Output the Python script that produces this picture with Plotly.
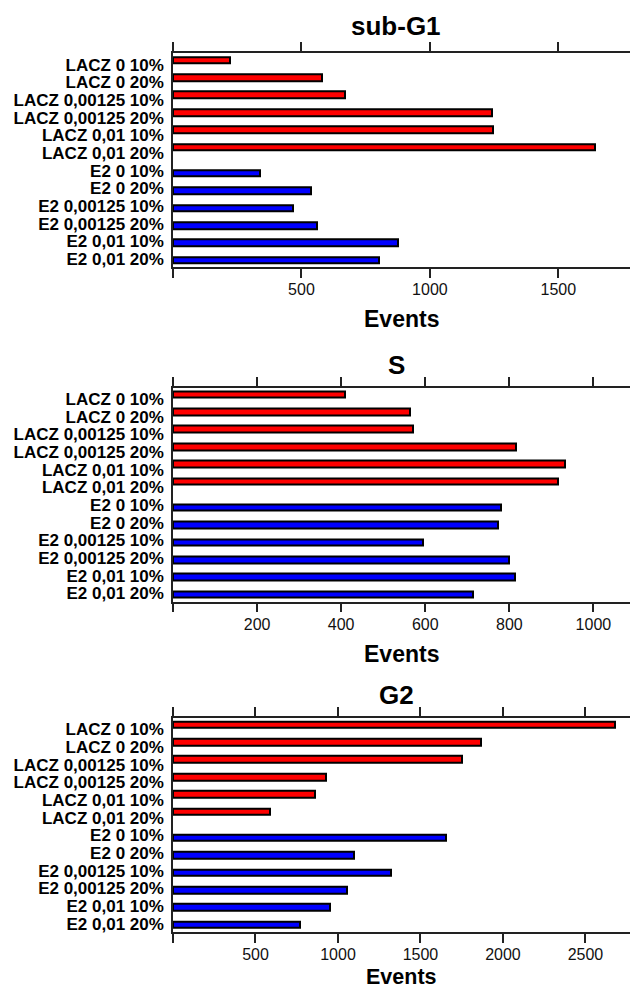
import numpy as np
import plotly.graph_objects as go

categories = ["LACZ 0 10%", "LACZ 0 20%", "LACZ 0,00125 10%", "LACZ 0,00125 20%",
              "LACZ 0,01 10%", "LACZ 0,01 20%",
              "E2 0 10%", "E2 0 20%", "E2 0,00125 10%", "E2 0,00125 20%",
              "E2 0,01 10%", "E2 0,01 20%"]
groups = ["LACZ"] * 6 + ["E2"] * 6
subg1_events = [222, 580, 668, 1240, 1244, 1642, 340, 538, 466, 562, 877, 800]
s_events = [408, 564, 572, 816, 932, 915, 779, 773, 595, 798, 814, 714]
g2_events = [2677, 1867, 1753, 928, 862, 585, 1655, 1100, 1323, 1055, 950, 772]
panel_titles = ["sub-G1", "S", "G2"]
x_tickvals = [[0, 500, 1000, 1500],
              [0, 200, 400, 600, 800, 1000],
              [0, 500, 1000, 1500, 2000, 2500]]
x_title = "Events"

series = [subg1_events, s_events, g2_events]
x_max = [1779, 1087, 2770]
colors = {"LACZ": "#FF0000", "E2": "#0000FF"}

W, H = 630, 992
FONT = "Liberation Sans, Arial, sans-serif"
plot_left = 173
panel_top = [53.3, 388.3, 719.3]
panel_h = 214.5
title_y = [26, 366, 696]
xtitle_y = [320, 655, 978.5]
xtitle_size = [23, 23, 21.5]

# bar positions: a gap of half a slot between the two groups
bar_pos = [i + (0.5 if g == "E2" else 0) for i, g in enumerate(groups)]
label_pos = list(np.linspace(0.27, 11.42, len(categories)))

fig = go.Figure()
annotations = []
for k, vals in enumerate(series):
    xa = "x" if k == 0 else f"x{k+1}"
    ya = "y" if k == 0 else f"y{k+1}"
    fig.add_trace(go.Bar(
        x=vals, y=bar_pos, orientation="h", width=0.385,
        marker=dict(color=[colors[g] for g in groups],
                    line=dict(color="#000000", width=2)),
        xaxis=xa, yaxis=ya, showlegend=False))
    y0 = 1 - (panel_top[k] + panel_h) / H
    y1 = 1 - panel_top[k] / H
    xkey = "xaxis" if k == 0 else f"xaxis{k+1}"
    ykey = "yaxis" if k == 0 else f"yaxis{k+1}"
    fig.layout[xkey] = dict(
        domain=[plot_left / W, 1], anchor=ya, range=[0, x_max[k]],
        showline=True, linecolor="#222222", linewidth=1.5, mirror="ticks",
        ticks="outside", ticklen=9, tickwidth=1.5, tickcolor="#222222",
        tickvals=x_tickvals[k],
        ticktext=["" if v == 0 else str(v) for v in x_tickvals[k]],
        tickfont=dict(family=FONT, size=16, color="#111111"),
        ticklabelstandoff=-2,
        showgrid=False, zeroline=False, fixedrange=True)
    fig.layout[ykey] = dict(
        domain=[y0, y1], anchor=xa, range=[11.9, -0.4],
        showline=True, linecolor="#222222", linewidth=1.5, mirror=False,
        ticks="", tickvals=label_pos, ticktext=categories,
        tickfont=dict(family=FONT, size=17, color="#000000", weight="bold"),
        ticklabelstandoff=4,
        showgrid=False, zeroline=False, fixedrange=True)
    cx = (plot_left + W) / 2 / W
    annotations.append(dict(text=panel_titles[k], x=396 / W, y=1 - title_y[k] / H,
                            xref="paper", yref="paper", showarrow=False,
                            xanchor="center", yanchor="middle",
                            font=dict(family=FONT, size=26, color="#000000", weight="bold")))
    annotations.append(dict(text=x_title, x=cx, y=1 - xtitle_y[k] / H,
                            xref="paper", yref="paper", showarrow=False,
                            xanchor="center", yanchor="middle",
                            font=dict(family=FONT, size=xtitle_size[k], color="#000000",
                                      weight="bold")))

fig.update_layout(width=W, height=H, margin=dict(l=0, r=0, t=0, b=0),
                  paper_bgcolor="white", plot_bgcolor="white",
                  annotations=annotations, bargap=0)
fig.write_html("out.html")
